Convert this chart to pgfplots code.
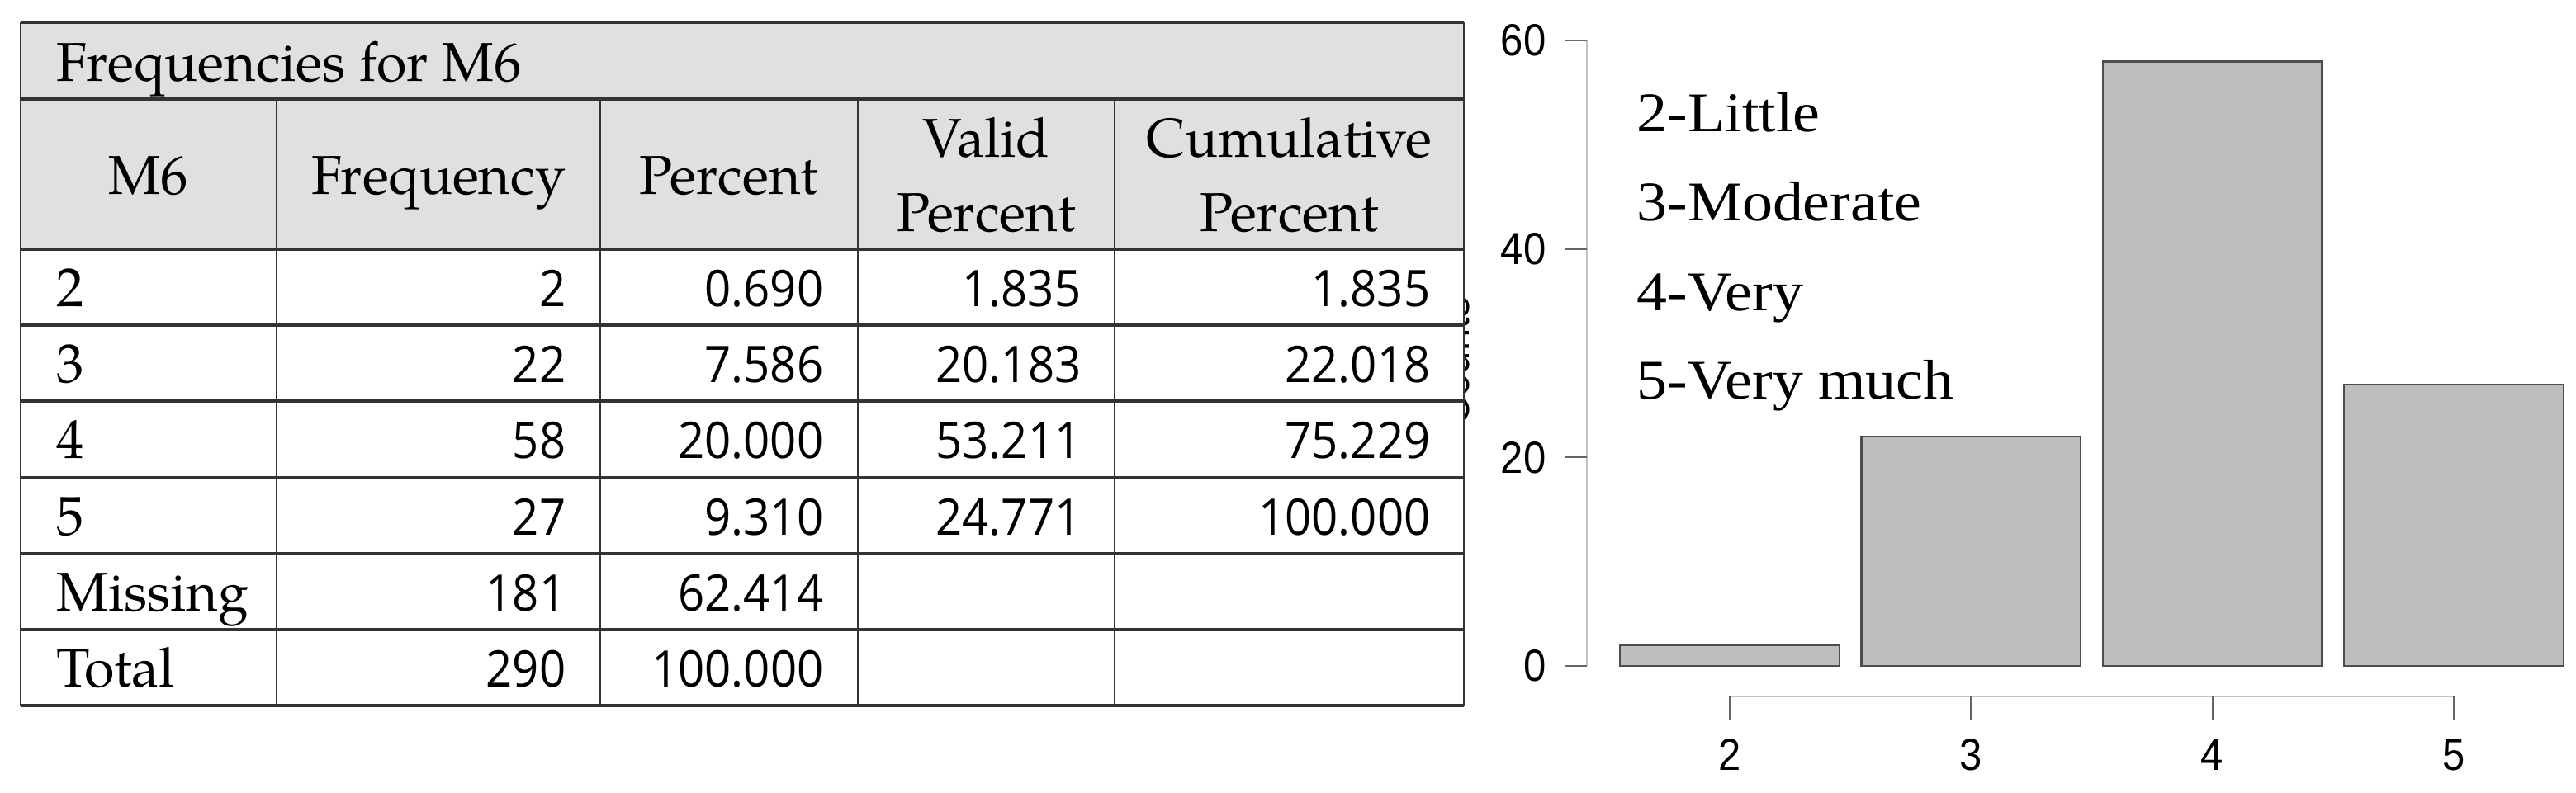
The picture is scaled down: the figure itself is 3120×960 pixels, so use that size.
\documentclass[border=0pt]{standalone}
\usepackage{pgfplots}
\pgfplotsset{compat=1.18}
\usepackage{fontspec}
\setmainfont{TeX Gyre Pagella}
\newfontfamily\numfont[FakeStretch=0.92]{Open Sans}
\newfontfamily\axfont[FakeStretch=0.9]{Liberation Sans}
\newfontfamily\legfont[FakeStretch=1.09]{Liberation Serif}
\definecolor{hdr}{HTML}{E0E0E0}
\definecolor{rule}{HTML}{333333}
\definecolor{barfill}{HTML}{BEBEBE}
\definecolor{baredge}{HTML}{4D4D4D}
\definecolor{axline}{HTML}{C4C4C4}
\definecolor{axtick}{HTML}{666666}

\begin{document}
\begin{tikzpicture}
  \tikzset{
    lab/.style={anchor=base west,inner sep=0,font=\fontsize{18.9}{22}\selectfont},
    hd/.style={anchor=base,inner sep=0,font=\fontsize{18.9}{22}\selectfont},
    num/.style={anchor=base east,inner sep=0,font=\numfont\fontsize{17.4}{20}\selectfont},
    tick/.style={inner sep=0,font=\axfont\fontsize{15.5}{18}\selectfont}}

  % bar chart
  \begin{axis}[at={(180.27mm,-93.33mm)},anchor=south west,x=29.23mm,y=1.263mm,
    xmin=1,xmax=5.5,ymin=-10,ymax=62,hide axis,clip=false]
    \addplot[ybar,bar width=0.909,fill=barfill,draw=baredge,line width=0.25mm]
      coordinates {(2,2) (3,22) (4,58) (5,27)};
    \draw[axline,line width=0.2mm] (axis cs:1.408,0) -- (axis cs:1.408,60);
    \pgfplotsinvokeforeach{0,20,40,60}{
      \draw[axtick,line width=0.2mm] (axis cs:1.316,#1) -- (axis cs:1.408,#1);
      \node[tick,anchor=east] at (axis cs:1.2405,#1) {#1};
    }
    \draw[axline,line width=0.2mm] (axis cs:2,-2.93) -- (axis cs:5,-2.93);
    \pgfplotsinvokeforeach{2,3,4,5}{
      \draw[axtick,line width=0.2mm] (axis cs:#1,-2.93) -- (axis cs:#1,-5.15);
      \node[tick,anchor=north] at (axis cs:#1,-6.97) {#1};
    }
  \end{axis}

  \begin{scope}[x=0.1mm,y=-0.1mm]
    \path (0,0) rectangle (3120,960);
    % y label of the chart, mostly behind the table
    \node[rotate=90,anchor=base,inner sep=0,font=\axfont\fontsize{15.5}{18}\selectfont] at (1779,438) {Counts};

    % legend text
    \foreach \yy/\t in {159/2-Little,267/3-Moderate,376/4-Very,483/5-Very much}
      \node[anchor=base west,inner sep=0,font=\legfont\fontsize{19.3}{22}\selectfont] at (1982,\yy) {\t};

    % table
    \fill[white] (25,27) rectangle (1773,855);
    \fill[hdr] (25,27) rectangle (1773,302);
    \foreach \x in {335,727,1039,1350}
      \draw[rule,line width=0.2mm] (\x,120) -- (\x,855);
    \draw[rule,line width=0.25mm] (25,27) -- (25,855);
    \draw[rule,line width=0.25mm] (1773,27) -- (1773,855);
    \foreach \y in {27,120,302,394,486,579,671,763,855}
      \draw[rule,line width=0.38mm] (25,\y) -- (1773,\y);

    \node[lab] at (68,98) {Frequencies for M6};
    \node[hd] at (180,235) {M6};
    \node[hd] at (531,235) {Frequency};
    \node[hd] at (883,235) {Percent};
    \node[hd] at (1194.5,190) {Valid};
    \node[hd] at (1194.5,280) {Percent};
    \node[hd] at (1561.5,190) {Cumulative};
    \node[hd] at (1561.5,280) {Percent};

    \foreach \yy/\k/\f/\p/\v/\c in {371/2/2/0.690/1.835/1.835,
        463/3/22/7.586/20.183/22.018,
        555/4/58/20.000/53.211/75.229,
        648/5/27/9.310/24.771/100.000}{
      \node[lab] at (68,\yy) {\k};
      \node[num] at (686,\yy) {\f};
      \node[num] at (998,\yy) {\p};
      \node[num] at (1310,\yy) {\v};
      \node[num] at (1733,\yy) {\c};
    }
    \node[lab] at (68,740) {Missing};
    \node[num] at (686,740) {181};
    \node[num] at (998,740) {62.414};
    \node[lab] at (68,832) {Total};
    \node[num] at (686,832) {290};
    \node[num] at (998,832) {100.000};
  \end{scope}
\end{tikzpicture}
\end{document}
